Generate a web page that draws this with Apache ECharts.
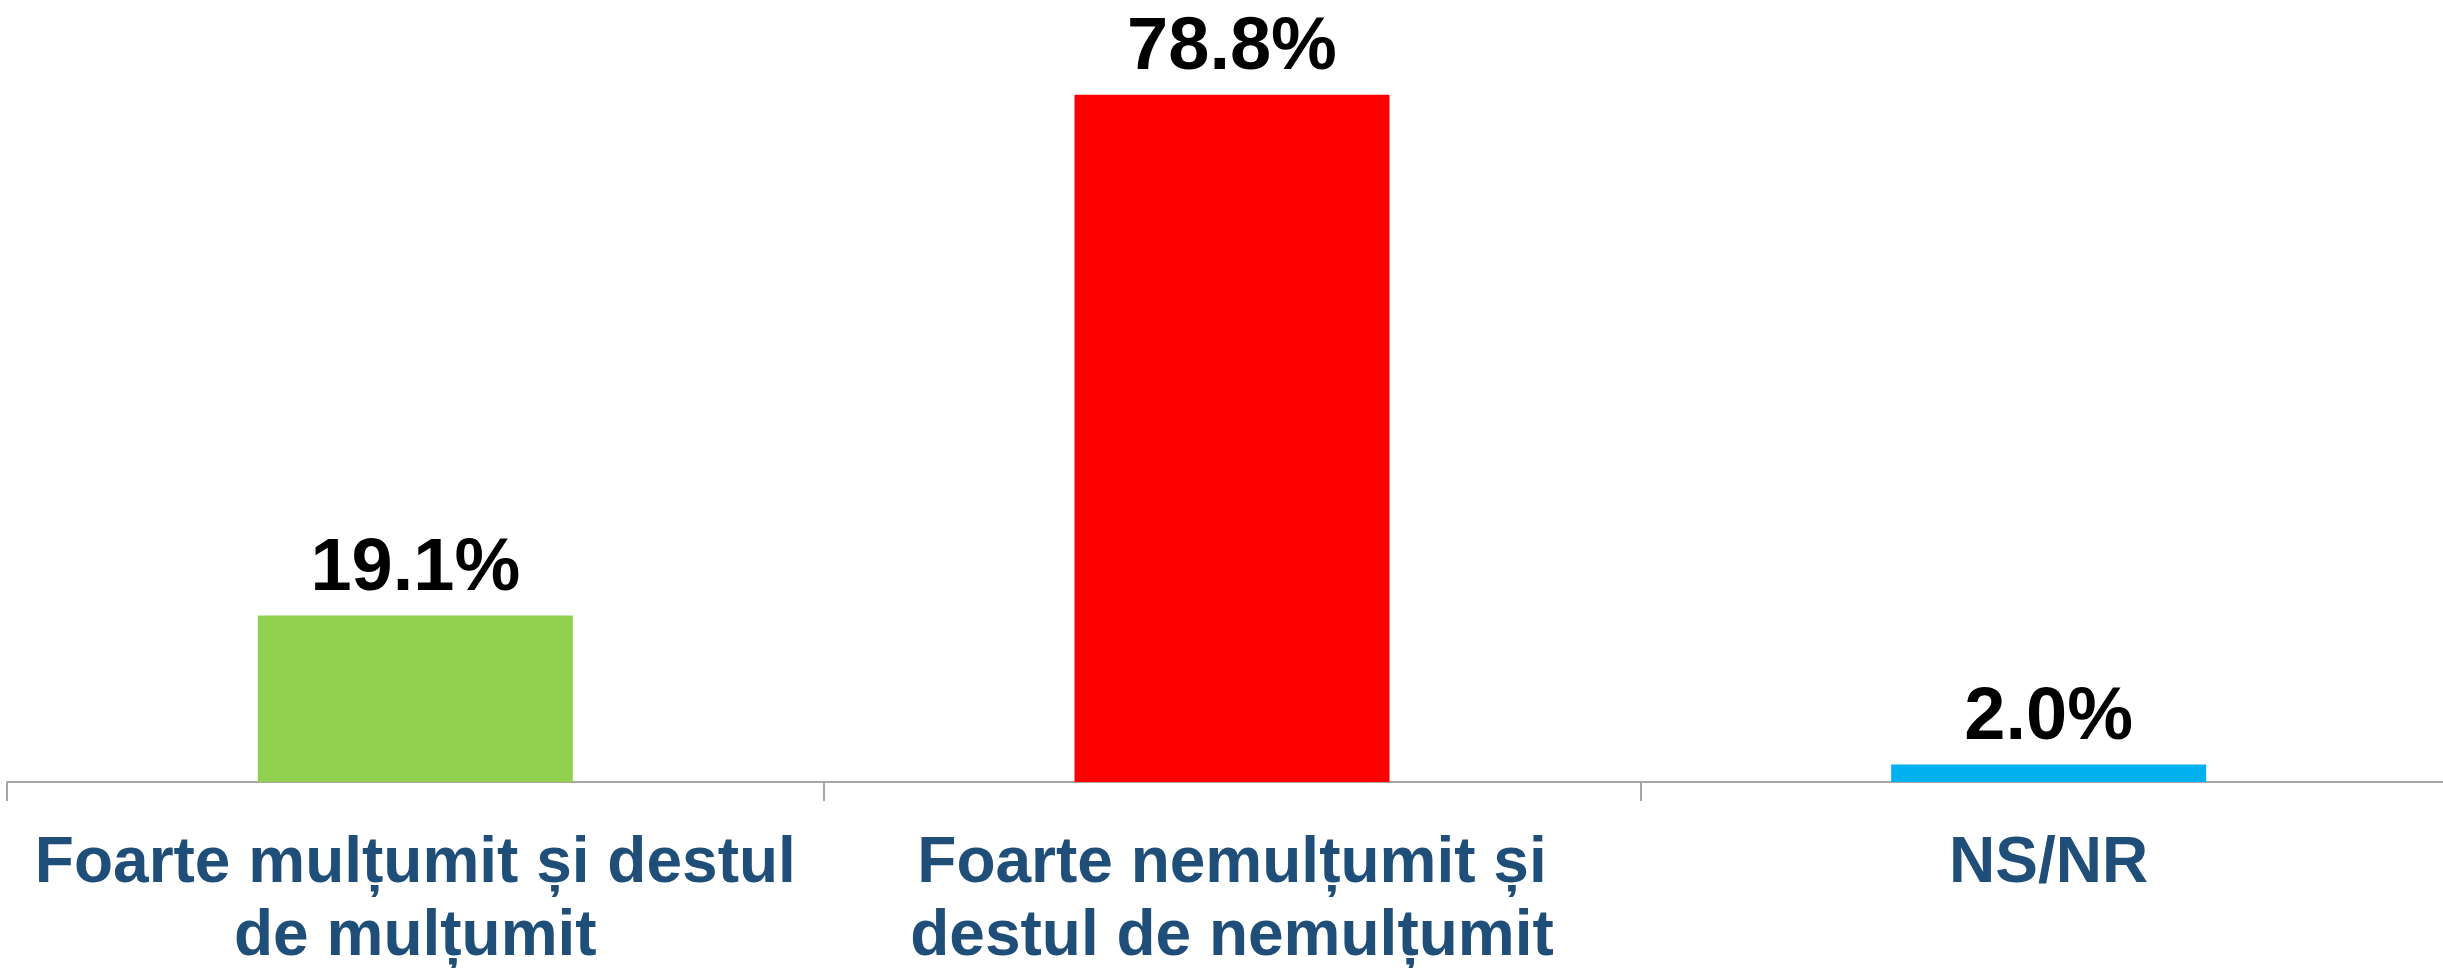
<!DOCTYPE html>
<html>
  <head>
    <meta charset="utf-8" />
    <title>Multumire</title>
    <script src="https://cdnjs.cloudflare.com/ajax/libs/echarts/6.0.0/echarts.min.js"></script>
    <style>
      html, body { margin: 0; padding: 0; background: #fff; }
    </style>
  </head>
  <body>
    <div id="main" style="width: 2443px;height: 968px;"></div>
    <script type="text/javascript">
      // date
      var categories = [
        'Foarte mulțumit și destul\nde mulțumit',
        'Foarte nemulțumit și\ndestul de nemulțumit',
        'NS/NR'
      ]
      var values = [19.1, 78.8, 2.0]
      var barColors = ['#92D050', '#FF0000', '#00B0F0']

      var myChart = echarts.init(document.getElementById('main'));

      var option = {
        animation: false,
        grid: {
          left: 7,
          width: 2450,
          top: -3,
          bottom: 186,
          containLabel: false,
          outerBoundsMode: 'none'
        },
        xAxis: {
          type: 'category',
          data: categories,
          axisLine: {
            lineStyle: { color: '#A6A6A6', width: 2 }
          },
          axisTick: {
            show: true,
            length: 19,
            lineStyle: { color: '#A6A6A6', width: 2 }
          },
          axisLabel: {
            interval: 0,
            margin: 46,
            color: '#1F4E79',
            fontFamily: 'Liberation Sans, Arial, sans-serif',
            fontWeight: 'bold',
            fontSize: 64,
            lineHeight: 73
          }
        },
        yAxis: {
          type: 'value',
          min: 0,
          max: 90,
          show: false,
          splitLine: { show: false }
        },
        series: [
          {
            type: 'bar',
            barWidth: 315,
            data: values.map(function (v, i) {
              return { value: v, itemStyle: { color: barColors[i] } };
            }),
            label: {
              show: true,
              position: 'top',
              distance: 9,
              color: '#000',
              fontFamily: 'Liberation Sans, Arial, sans-serif',
              fontWeight: 'bold',
              fontSize: 74,
              formatter: function (p) {
                return p.value.toFixed(1) + '%';
              }
            }
          }
        ]
      }

      myChart.setOption(option);
    </script>
  </body>
</html>
